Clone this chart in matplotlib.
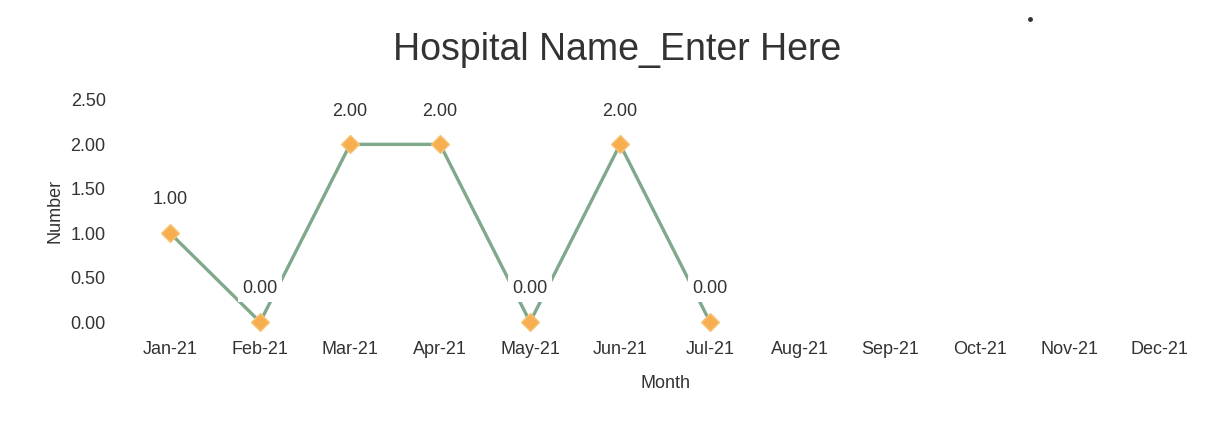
import matplotlib.pyplot as plt
from matplotlib.lines import Line2D

months = ["Jan-21", "Feb-21", "Mar-21", "Apr-21", "May-21", "Jun-21",
          "Jul-21", "Aug-21", "Sep-21", "Oct-21", "Nov-21", "Dec-21"]
values = [1.0, 0.0, 2.0, 2.0, 0.0, 2.0, 0.0]
y_ticks = [0.0, 0.5, 1.0, 1.5, 2.0, 2.5]

plt.rcParams['font.family'] = ['Liberation Sans', 'DejaVu Sans']

fig = plt.figure(figsize=(12.27, 4.32), dpi=100)
ax = fig.add_axes([0.102, 0.2546, 0.880, 0.514])

x = list(range(len(values)))
ax.plot(x, values, color="#7fa98a", linewidth=2.4, zorder=2, clip_on=False)
ax.plot(x, values, linestyle="none", marker="D", markersize=9,
        color="#f6ae4e", markeredgecolor="#f6c47a", zorder=3, clip_on=False)

# data labels with white background, like the Excel chart
for xi, v in zip(x, values):
    ax.annotate(f"{v:.2f}", (xi, v), xytext=(0, 24), textcoords="offset points",
                ha="center", va="center", fontsize=13, color="#333333",
                bbox=dict(boxstyle="square,pad=0.25", facecolor="white", edgecolor="none"),
                zorder=4)

ax.set_xlim(-0.5, len(months) - 0.5)
ax.set_ylim(0, 2.5)
ax.set_xticks(range(len(months)))
ax.set_xticklabels(months)
ax.set_yticks(y_ticks)
ax.set_yticklabels([f"{t:.2f}" for t in y_ticks])
ax.tick_params(axis="both", length=0, labelsize=13, labelcolor="#333333")
ax.tick_params(axis="x", pad=14)
ax.tick_params(axis="y", pad=14)
for s in ax.spines.values():
    s.set_visible(False)

ax.set_xlabel("Month", fontsize=13, color="#333333", labelpad=12)
ax.set_ylabel("Number", fontsize=13, color="#333333", labelpad=5)
fig.text(0.503, 0.884, "Hospital Name_Enter Here", ha="center", va="center",
         fontsize=27, color="#333333")

# stray dot in the scan
fig.add_artist(Line2D([0.8395], [0.955], marker="o", markersize=2.5,
                      color="#333333", transform=fig.transFigure))

fig.savefig("out.png", dpi=100, facecolor="white")
